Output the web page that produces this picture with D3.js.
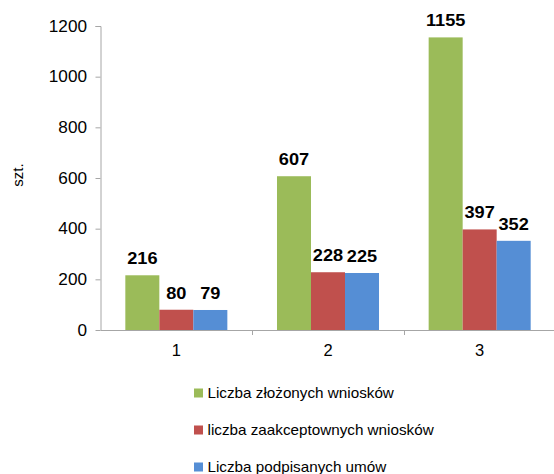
<!DOCTYPE html>
<html><head><meta charset="utf-8">
<script src="https://cdn.jsdelivr.net/npm/d3@7"></script>
<style>body{margin:0;background:#fff}svg{display:block;font-family:"Liberation Sans",Arial,sans-serif}</style>
</head><body><div id="chart"></div>
<script>
const categories = ["1", "2", "3"];
const seriesNames = ["Liczba złożonych wniosków", "liczba zaakceptownych wniosków", "Liczba podpisanych umów"];
const seriesColors = ["#9bbb59", "#c0504d", "#558ed5"];
const zlozone = [216, 607, 1155];
const zaakceptowane = [80, 228, 397];
const podpisane = [79, 225, 352];
const yTicks = [0, 200, 400, 600, 800, 1000, 1200];
const yLabel = "szt.";

const series = [zlozone, zaakceptowane, podpisane];
const W = 554, H = 474;
const mLeft = 100.5, mRight = 555.5, mTop = 26, mBottom = 330;
const FONT = "'Liberation Sans', Arial, sans-serif";

const svg = d3.select("#chart").append("svg").attr("width", W).attr("height", H);

const y = d3.scaleLinear().domain([0, 1200]).range([mBottom, mTop]);
const x0 = d3.scaleBand().domain(categories).range([mLeft, mRight]).padding(0);
const x1 = d3.scaleBand().domain(d3.range(series.length)).range([0, x0.bandwidth()]).paddingInner(0).paddingOuter(0.73);

// bars
categories.forEach((c, ci) => {
  series.forEach((s, si) => {
    svg.append("rect")
      .attr("x", x0(c) + x1(si))
      .attr("y", y(s[ci]))
      .attr("width", x1.bandwidth())
      .attr("height", mBottom - y(s[ci]))
      .attr("fill", seriesColors[si]);
    svg.append("text")
      .attr("transform", `translate(${x0(c) + x1(si) + x1.bandwidth() / 2},${y(s[ci]) - 11}) scale(1.07,1)`)
      .attr("text-anchor", "middle")
      .attr("font-size", 17)
      .attr("font-weight", "bold")
      .attr("fill", "#000")
      .text(s[ci]);
  });
});

// y axis
const yAxis = d3.axisLeft(y).tickValues(yTicks).tickFormat(d3.format("d")).tickSize(5).tickPadding(8);
const gy = svg.append("g").attr("transform", `translate(${mLeft},0)`).call(yAxis);
gy.attr("font-family", FONT);
gy.select(".domain").attr("stroke", "#a6a6a6").attr("d", `M-5,${mTop}.5H0.5V${mBottom}`);
gy.selectAll(".tick line").attr("stroke", "#a6a6a6");
gy.selectAll(".tick text").attr("font-size", 16.5).attr("fill", "#000").attr("transform", "scale(1.04,1)");

// x axis
const xAxis = d3.axisBottom(x0).tickSize(0).tickPadding(14);
const gx = svg.append("g").attr("transform", `translate(0,${mBottom})`).call(xAxis);
gx.attr("font-family", FONT);
gx.select(".domain").attr("stroke", "#a6a6a6").attr("d", `M${mLeft},0.5H${mRight}`);
gx.selectAll(".tick text").attr("font-size", 16.5).attr("fill", "#000");
// category boundary ticks
const bounds = categories.map(c => x0(c)).concat([x0(categories[categories.length - 1]) + x0.bandwidth()]);
gx.selectAll(".bt").data(bounds.slice(1)).enter().append("line")
  .attr("x1", d => Math.round(d) + 0.5).attr("x2", d => Math.round(d) + 0.5)
  .attr("y1", 0).attr("y2", 5).attr("stroke", "#a6a6a6");

// y label
svg.append("text")
  .attr("transform", `translate(23,175) rotate(-90)`)
  .attr("text-anchor", "middle")
  .attr("font-size", 15)
  .attr("fill", "#000")
  .text(yLabel);

// legend
const lg = svg.append("g");
seriesNames.forEach((n, i) => {
  const cy = 393 + i * 37;
  lg.append("rect").attr("x", 194).attr("y", cy - 4.5).attr("width", 9).attr("height", 9).attr("fill", seriesColors[i]);
  lg.append("text").attr("transform", `translate(207.5,${cy + 5}) scale(1.09,1)`).attr("font-size", 14).attr("fill", "#000").text(n);
});
</script></body></html>
